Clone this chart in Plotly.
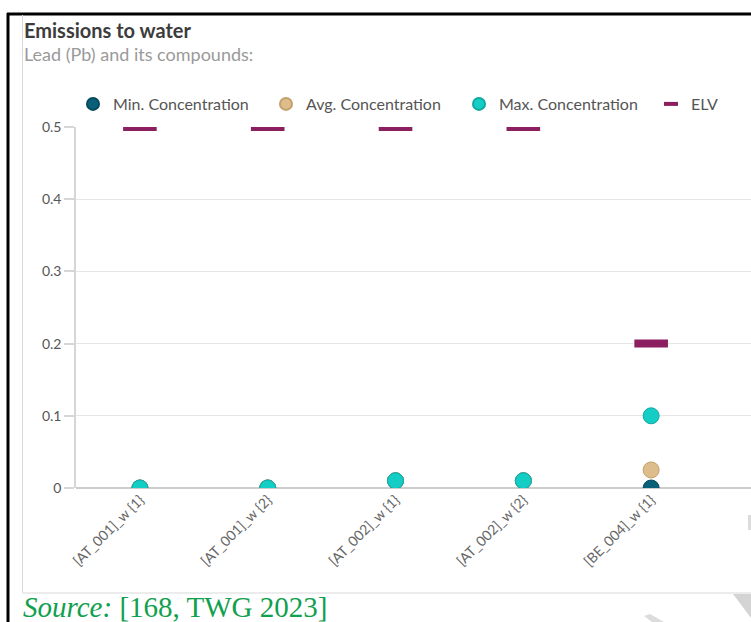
import plotly.graph_objects as go

# Data: lead (Pb) and its compounds, emissions to water (mg/l)
plants = ["[AT_001]_w {1}", "[AT_001]_w {2}", "[AT_002]_w {1}", "[AT_002]_w {2}", "[BE_004]_w {1}"]
min_conc = [0.0, 0.0, 0.01, 0.01, 0.0]
avg_conc = [0.0, 0.0, 0.01, 0.01, 0.025]
max_conc = [0.0, 0.0, 0.01, 0.01, 0.1]
elv = [0.5, 0.5, 0.5, 0.5, 0.2]
y_ticks = [0, 0.1, 0.2, 0.3, 0.4, 0.5]

W, H = 751, 622
L, R, T, B = 76, 0, 127, 134
PW, PH = W - L - R, H - T - B


def px(x):
    return (x - L) / PW


def py(y):
    return (H - B - y) / PH


FONT = "Lato"
ELV_COLOR = "#8b1f5f"

fig = go.Figure()

series = [
    ("Min. Concentration", min_conc, "#0a6078", "#06495c"),
    ("Avg. Concentration", avg_conc, "#ddbd8b", "#c4a06c"),
    ("Max. Concentration", max_conc, "#14cdc5", "#0fa9a2"),
]
for name, vals, col, edge in series:
    fig.add_trace(go.Scatter(
        x=plants, y=vals, name=name, mode="markers",
        marker=dict(symbol="circle", size=16, color=col, line=dict(color=edge, width=1)),
        cliponaxis=True, legend="legend",
    ))

# ELV marks; the legend entry uses a smaller dash of the same style
fig.add_trace(go.Scatter(
    x=plants, y=elv, name="ELV", mode="markers", legendgroup="elv", showlegend=False,
    marker=dict(symbol="line-ew", size=24, color=ELV_COLOR,
                line=dict(color=ELV_COLOR, width=8)),
    cliponaxis=True,
))
fig.add_trace(go.Scatter(
    x=[None], y=[None], name="ELV", mode="markers", legendgroup="elv", legend="legend2",
    marker=dict(symbol="line-ew", size=10, color=ELV_COLOR,
                line=dict(color=ELV_COLOR, width=4)),
))

shapes = [
    # document frame
    dict(type="line", xref="paper", yref="paper", x0=px(8), x1=px(8), y0=py(13), y1=py(H + 5),
         line=dict(color="black", width=3)),
    dict(type="line", xref="paper", yref="paper", x0=px(7), x1=px(W + 5), y0=py(14), y1=py(14),
         line=dict(color="black", width=3)),
    # chart panel border
    dict(type="line", xref="paper", yref="paper", x0=px(22.5), x1=px(22.5), y0=py(15), y1=py(593),
         line=dict(color="#d9d9d9", width=1)),
    dict(type="line", xref="paper", yref="paper", x0=px(22.5), x1=px(W + 5), y0=py(593), y1=py(593),
         line=dict(color="#e6e6e6", width=1.5)),
    # faint watermark fragments
    dict(type="path", xref="paper", yref="paper",
         path=f"M {px(733)},{py(594)} L {px(751)},{py(594)} L {px(751)},{py(618)} Z",
         fillcolor="#d4d4d4", line=dict(width=0)),
    dict(type="path", xref="paper", yref="paper",
         path=f"M {px(748)},{py(515)} L {px(751)},{py(515)} L {px(751)},{py(530)} L {px(748)},{py(530)} Z",
         fillcolor="#dcdcdc", line=dict(width=0)),
    dict(type="path", xref="paper", yref="paper",
         path=f"M {px(644)},{py(616)} L {px(650)},{py(614)} L {px(664)},{py(622)} L {px(652)},{py(622)} Z",
         fillcolor="#dcdcdc", line=dict(width=0)),
]

annotations = [
    dict(text="<b>Emissions to water</b>", xref="paper", yref="paper", x=px(22), y=py(30),
         xanchor="left", yanchor="middle", showarrow=False,
         font=dict(family=FONT, size=20, color="#3c3c3c")),
    dict(text="Lead (Pb) and its compounds:", xref="paper", yref="paper", x=px(22), y=py(54),
         xanchor="left", yanchor="middle", showarrow=False,
         font=dict(family=FONT, size=18, color="#9a9a9a")),
    dict(text="<i>Source:</i> [168, TWG 2023]", xref="paper", yref="paper", x=px(21), y=py(607),
         xanchor="left", yanchor="middle", showarrow=False,
         font=dict(family="Liberation Serif", size=29, color="#10a04e")),
]

legend_font = dict(family=FONT, size=16, color="#555555")

fig.update_layout(
    width=W, height=H, autosize=False,
    margin=dict(l=L, r=R, t=T, b=B, pad=0),
    paper_bgcolor="white", plot_bgcolor="white",
    showlegend=True,
    legend=dict(orientation="h", x=px(73), y=py(104), xanchor="left", yanchor="middle",
                font=legend_font, entrywidth=148, entrywidthmode="pixels",
                itemsizing="constant", traceorder="normal", bgcolor="rgba(0,0,0,0)"),
    legend2=dict(orientation="h", x=px(651), y=py(104), xanchor="left", yanchor="middle",
                 font=legend_font, itemsizing="trace", bgcolor="rgba(0,0,0,0)"),
    xaxis=dict(type="category", range=[-0.5, 4 + (W - 651) / 128],
               tickangle=-45, showgrid=False, zeroline=False, showline=False,
               ticks="", tickfont=dict(family=FONT, size=14, color="#666666")),
    yaxis=dict(range=[0, 0.5], tickvals=y_ticks, ticktext=["0", "0.1", "0.2", "0.3", "0.4", "0.5"],
               showgrid=True, gridcolor="#e6e6e6", gridwidth=1,
               zeroline=True, zerolinecolor="#cccccc", zerolinewidth=1.5,
               showline=True, linecolor="#d6d6d6", linewidth=1.5,
               ticks="outside", ticklen=10, tickcolor="#d6d6d6", tickwidth=1.5,
               tickfont=dict(family=FONT, size=14, color="#555555")),
    shapes=shapes,
    annotations=annotations,
)

fig.write_html("out.html")
